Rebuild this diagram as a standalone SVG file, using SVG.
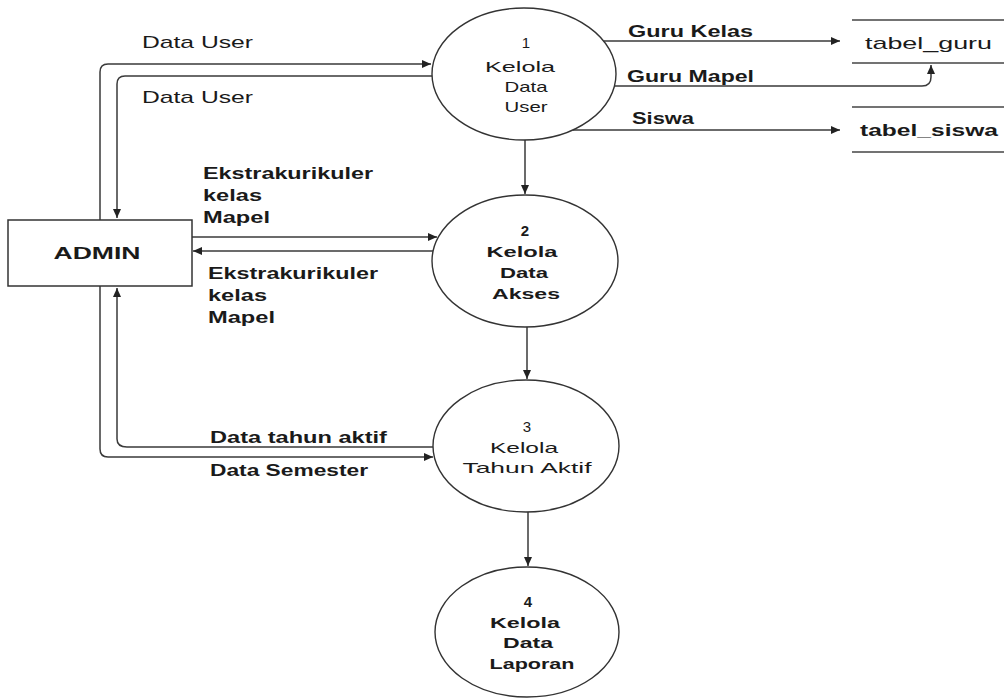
<svg xmlns="http://www.w3.org/2000/svg" width="1004" height="699" viewBox="0 0 1004 699">
<style>
.ln{fill:none;stroke:#3a3a3a;stroke-width:1.5}
.el{fill:#fff;stroke:#333;stroke-width:1.4}
.bx{fill:#fff;stroke:#333;stroke-width:1.5}
.st{stroke:#444;stroke-width:1.4}
.lb{font-family:"Liberation Sans",Arial,sans-serif;font-size:17px;font-weight:bold;fill:#1a1a1a}
.lr{font-family:"Liberation Sans",Arial,sans-serif;font-size:17px;fill:#1a1a1a}
.pt{font-family:"Liberation Sans",Arial,sans-serif;font-size:15px;fill:#1a1a1a;text-anchor:middle}
.pb{font-family:"Liberation Sans",Arial,sans-serif;font-size:15px;font-weight:bold;fill:#1a1a1a;text-anchor:middle}
</style>
<defs>
<marker id="ah" markerUnits="userSpaceOnUse" markerWidth="10" markerHeight="8" refX="9" refY="4" orient="auto">
<path d="M0,0 L9,4 L0,8 Z" fill="#222"/>
</marker>
</defs>
<rect width="1004" height="699" fill="#fff"/>
<g id="connectors">
<path class="ln" d="M100,220 V72 Q100,64 108,64 H431" marker-end="url(#ah)"/>
<path class="ln" d="M432,76 H125 Q117,76 117,84 V218" marker-end="url(#ah)"/>
<path class="ln" d="M192,237 H437" marker-end="url(#ah)"/>
<path class="ln" d="M433,251 H193" marker-end="url(#ah)"/>
<path class="ln" d="M433,447 H127 Q117,447 117,439 V288" marker-end="url(#ah)"/>
<path class="ln" d="M100,286 V449 Q100,457 108,457 H433" marker-end="url(#ah)"/>
<path class="ln" d="M525,140 V194" marker-end="url(#ah)"/>
<path class="ln" d="M527,327 V379" marker-end="url(#ah)"/>
<path class="ln" d="M528,512 V566" marker-end="url(#ah)"/>
<path class="ln" d="M604,41 H840" marker-end="url(#ah)"/>
<path class="ln" d="M614,86 H922 Q931,86 931,77 V65" marker-end="url(#ah)"/>
<path class="ln" d="M573,130 H840" marker-end="url(#ah)"/>
<text class="lr" x="142" y="48" textLength="111" lengthAdjust="spacingAndGlyphs">Data User</text>
<text class="lr" x="142" y="103" textLength="111" lengthAdjust="spacingAndGlyphs">Data User</text>
<text class="lb" x="203" y="179" textLength="170" lengthAdjust="spacingAndGlyphs">Ekstrakurikuler</text>
<text class="lb" x="203" y="201" textLength="59" lengthAdjust="spacingAndGlyphs">kelas</text>
<text class="lb" x="203" y="223" textLength="67" lengthAdjust="spacingAndGlyphs">Mapel</text>
<text class="lb" x="208" y="279" textLength="170" lengthAdjust="spacingAndGlyphs">Ekstrakurikuler</text>
<text class="lb" x="208" y="301" textLength="59" lengthAdjust="spacingAndGlyphs">kelas</text>
<text class="lb" x="208" y="323" textLength="67" lengthAdjust="spacingAndGlyphs">Mapel</text>
<text class="lb" x="210" y="443" textLength="177" lengthAdjust="spacingAndGlyphs">Data tahun aktif</text>
<text class="lb" x="210" y="476" textLength="158" lengthAdjust="spacingAndGlyphs">Data Semester</text>
<text class="lb" x="628" y="37" textLength="125" lengthAdjust="spacingAndGlyphs">Guru Kelas</text>
<text class="lb" x="627" y="82" textLength="127" lengthAdjust="spacingAndGlyphs">Guru Mapel</text>
<text class="lb" x="632" y="124" textLength="62" lengthAdjust="spacingAndGlyphs">Siswa</text>
</g>
<g id="admin">
<rect class="bx" x="8" y="220" width="184" height="66"/>
<text class="lb" x="97" y="259" text-anchor="middle" textLength="87" lengthAdjust="spacingAndGlyphs">ADMIN</text>
</g>
<g id="p1">
<ellipse class="el" cx="524" cy="74" rx="92" ry="66"/>
<text class="pt" x="526" y="48">1</text>
<text class="pt" x="520" y="72" textLength="70" lengthAdjust="spacingAndGlyphs">Kelola</text>
<text class="pt" x="526" y="92" textLength="43" lengthAdjust="spacingAndGlyphs">Data</text>
<text class="pt" x="526" y="112" textLength="43" lengthAdjust="spacingAndGlyphs">User</text>
</g>
<g id="p2">
<ellipse class="el" cx="525" cy="261" rx="93" ry="66"/>
<text class="pb" x="525" y="236">2</text>
<text class="pb" x="522" y="257" textLength="71" lengthAdjust="spacingAndGlyphs">Kelola</text>
<text class="pb" x="524" y="278" textLength="48" lengthAdjust="spacingAndGlyphs">Data</text>
<text class="pb" x="526" y="299" textLength="68" lengthAdjust="spacingAndGlyphs">Akses</text>
</g>
<g id="p3">
<ellipse class="el" cx="526" cy="446" rx="93" ry="66"/>
<text class="pt" x="527" y="432">3</text>
<text class="pt" x="524" y="453" textLength="68" lengthAdjust="spacingAndGlyphs">Kelola</text>
<text class="pt" x="527" y="473" textLength="129" lengthAdjust="spacingAndGlyphs">Tahun Aktif</text>
</g>
<g id="p4">
<ellipse class="el" cx="527" cy="632" rx="92" ry="65"/>
<text class="pb" x="528" y="607">4</text>
<text class="pb" x="525" y="628" textLength="70" lengthAdjust="spacingAndGlyphs">Kelola</text>
<text class="pb" x="528" y="648" textLength="50" lengthAdjust="spacingAndGlyphs">Data</text>
<text class="pb" x="532" y="669" textLength="85" lengthAdjust="spacingAndGlyphs">Laporan</text>
</g>
<g id="tabel_guru">
<line class="st" x1="852" y1="20" x2="1004" y2="20"/>
<line class="st" x1="852" y1="63" x2="1004" y2="63"/>
<text class="lr" x="865" y="49" textLength="127" lengthAdjust="spacingAndGlyphs">tabel_guru</text>
</g>
<g id="tabel_siswa">
<line class="st" x1="852" y1="107" x2="1004" y2="107"/>
<line class="st" x1="852" y1="152" x2="1004" y2="152"/>
<text class="lb" x="860" y="136" textLength="138" lengthAdjust="spacingAndGlyphs">tabel_siswa</text>
</g>
</svg>
